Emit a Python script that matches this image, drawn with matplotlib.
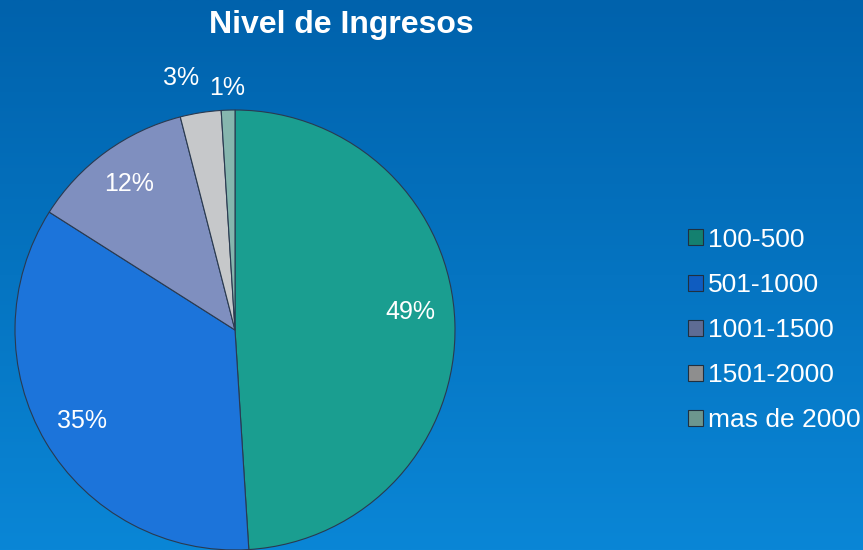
import numpy as np
import matplotlib
matplotlib.use("Agg")
import matplotlib.pyplot as plt
from matplotlib.patches import Patch
from matplotlib.colors import LinearSegmentedColormap

plt.rcParams['font.family'] = ['Liberation Sans', 'DejaVu Sans']

title = "Nivel de Ingresos"
categories = ["100-500", "501-1000", "1001-1500", "1501-2000", "mas de 2000"]
values = [49, 35, 12, 3, 1]
colors = ["#1A9E90", "#1C74DA", "#7F8FBF", "#C6C8CA", "#86B6AE"]
legend_colors = ["#14806F", "#0F5CC0", "#5E6C94", "#8E8E8E", "#6C968E"]
label_r = [0.8, 0.81, 0.82, 1.17, 1.1]   # label distance from centre
label_da = [4, 0, 0, 3, 0]   # small angular nudges (deg)

fig = plt.figure(figsize=(8.63, 5.5), dpi=100)

# background gradient
bg = fig.add_axes([0, 0, 1, 1])
grad = np.linspace(0, 1, 256).reshape(-1, 1)
cmap = LinearSegmentedColormap.from_list("bg", ["#0062AC", "#0A86D6"])
bg.imshow(grad, aspect="auto", cmap=cmap, extent=[0, 1, 0, 1], origin="upper")
bg.set_axis_off()

ax = fig.add_axes([15 / 863, 0, 440 / 863, 440 / 550])
wedges, _ = ax.pie(values, colors=colors, startangle=90, counterclock=False,
                   radius=1, wedgeprops=dict(edgecolor="#2A3A50", linewidth=0.8))
ax.set_xlim(-1, 1)
ax.set_ylim(-1, 1)
ax.set_aspect("equal")
ax.set_axis_off()

for w, v, r, da in zip(wedges, values, label_r, label_da):
    ang = np.deg2rad((w.theta1 + w.theta2) / 2 + da)
    ax.text(r * np.cos(ang), r * np.sin(ang), "%d%%" % v, color="white",
            fontsize=18, ha="center", va="center")

fig.text(341 / 863, 1 - 25 / 550, title, color="white", fontsize=23,
         fontweight="bold", ha="center", va="center")

handles = [Patch(facecolor=c, edgecolor="#203040", linewidth=0.8) for c in legend_colors]
fig.legend(handles, categories, loc="center left", bbox_to_anchor=(688 / 863, 1 - 330 / 550),
           frameon=False, fontsize=19, labelcolor="white", handlelength=0.55,
           handleheight=0.55, handletextpad=0.2, labelspacing=0.8, borderpad=0,
           borderaxespad=0)

fig.savefig("out.png", dpi=100)
